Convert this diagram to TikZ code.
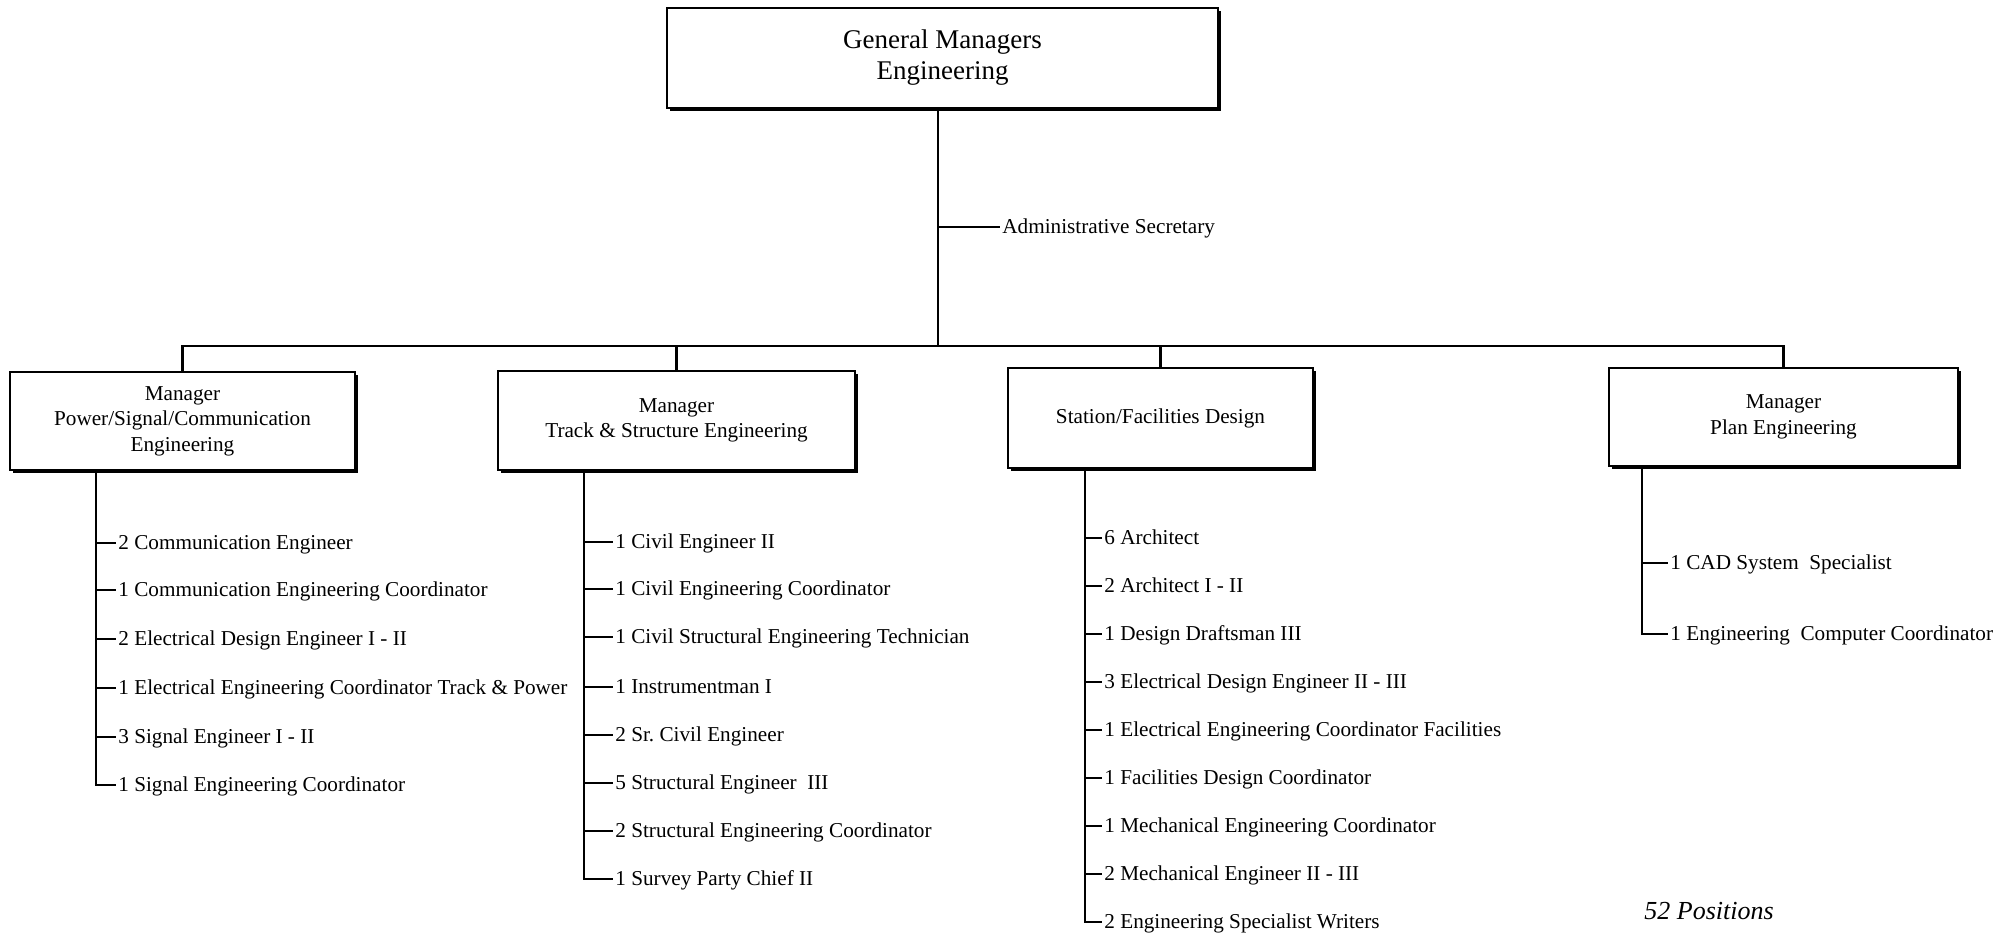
\documentclass[tikz,border=0pt]{standalone}
\usepackage{fontspec}
\setmainfont{Liberation Serif}
\usetikzlibrary{shadows}

\tikzset{
  unitbox/.style={draw, line width=1.1pt, fill=white, align=center,
    font=\fontsize{10.6}{12.75}\selectfont,
    drop shadow={shadow xshift=1.3pt, shadow yshift=-1.3pt, opacity=1, fill=black}},
  topbox/.style={unitbox, font=\fontsize{13.5}{15.5}\selectfont},
  post/.style={anchor=west, inner xsep=1pt, inner ysep=0pt, text height=8pt,
    text depth=1.5pt, font=\fontsize{10.6}{12.75}\selectfont},
  link/.style={line width=1.2pt}
}

\begin{document}
\begin{tikzpicture}[x=0.5pt, y=-0.5pt]
\useasboundingbox (0,0) rectangle (2007,935);

% boxes
\node[topbox, minimum width=275.5pt, minimum height=50pt] (gm) at (942.5,58) {General Managers\\Engineering};
\node[unitbox, minimum width=172.5pt, minimum height=49pt] (psc) at (182.5,421) {Manager\\Power/Signal/Communication\\Engineering};
\node[unitbox, minimum width=178.5pt, minimum height=49.5pt] (track) at (676.5,420.5) {Manager\\Track \& Structure Engineering};
\node[unitbox, minimum width=152.5pt, minimum height=50pt] (station) at (1160.5,418) {Station/Facilities Design};
\node[unitbox, minimum width=174.5pt, minimum height=49pt] (plan) at (1783.5,417) {Manager\\Plan Engineering};

% main line and bus
\coordinate (bus) at (938,346);
\draw[link] (bus |- gm.south) -- (bus);
\draw[link] (psc.north) |- (bus) -| (plan.north);
\draw[link] (track.north) -- (track.north |- bus);
\draw[link] (station.north) -- (station.north |- bus);

\node[post] (admin) at (1000,227) {Administrative Secretary};
\draw[link] (bus |- admin.west) -- (admin.west);

% power/signal/communication
\coordinate (pspine) at (96,0);
\node[post] (p1) at (116,543) {2 Communication Engineer};
\node[post] (p2) at (116,590) {1 Communication Engineering Coordinator};
\node[post] (p3) at (116,639) {2 Electrical Design Engineer I - II};
\node[post] (p4) at (116,688) {1 Electrical Engineering Coordinator Track \& Power};
\node[post] (p5) at (116,737) {3 Signal Engineer I - II};
\node[post] (p6) at (116,785) {1 Signal Engineering Coordinator};
\draw[link] (pspine |- psc.south) |- (p6.west);
\draw[link] (pspine |- p1.west) -- (p1.west) (pspine |- p2.west) -- (p2.west)
  (pspine |- p3.west) -- (p3.west) (pspine |- p4.west) -- (p4.west)
  (pspine |- p5.west) -- (p5.west);

% track & structure
\coordinate (tspine) at (584,0);
\node[post] (t1) at (613,542) {1 Civil Engineer II};
\node[post] (t2) at (613,589) {1 Civil Engineering Coordinator};
\node[post] (t3) at (613,637) {1 Civil Structural Engineering Technician};
\node[post] (t4) at (613,687) {1 Instrumentman I};
\node[post] (t5) at (613,735) {2 Sr.\ Civil Engineer};
\node[post] (t6) at (613,783) {5 Structural Engineer\ \ III};
\node[post] (t7) at (613,831) {2 Structural Engineering Coordinator};
\node[post] (t8) at (613,879) {1 Survey Party Chief II};
\draw[link] (tspine |- track.south) |- (t8.west);
\draw[link] (tspine |- t1.west) -- (t1.west) (tspine |- t2.west) -- (t2.west)
  (tspine |- t3.west) -- (t3.west) (tspine |- t4.west) -- (t4.west)
  (tspine |- t5.west) -- (t5.west) (tspine |- t6.west) -- (t6.west)
  (tspine |- t7.west) -- (t7.west);

% station/facilities
\coordinate (sspine) at (1085,0);
\node[post] (s1) at (1102,538) {6 Architect};
\node[post] (s2) at (1102,586) {2 Architect I - II};
\node[post] (s3) at (1102,634) {1 Design Draftsman III};
\node[post] (s4) at (1102,682) {3 Electrical Design Engineer II - III};
\node[post] (s5) at (1102,730) {1 Electrical Engineering Coordinator Facilities};
\node[post] (s6) at (1102,778) {1 Facilities Design Coordinator};
\node[post] (s7) at (1102,826) {1 Mechanical Engineering Coordinator};
\node[post] (s8) at (1102,874) {2 Mechanical Engineer II - III};
\node[post] (s9) at (1102,922) {2 Engineering Specialist Writers};
\draw[link] (sspine |- station.south) |- (s9.west);
\draw[link] (sspine |- s1.west) -- (s1.west) (sspine |- s2.west) -- (s2.west)
  (sspine |- s3.west) -- (s3.west) (sspine |- s4.west) -- (s4.west)
  (sspine |- s5.west) -- (s5.west) (sspine |- s6.west) -- (s6.west)
  (sspine |- s7.west) -- (s7.west) (sspine |- s8.west) -- (s8.west);

% plan
\coordinate (lspine) at (1642,0);
\node[post] (l1) at (1668,563) {1 CAD System\ \ Specialist};
\node[post] (l2) at (1668,634) {1 Engineering\ \ Computer Coordinator};
\draw[link] (lspine |- plan.south) |- (l2.west);
\draw[link] (lspine |- l1.west) -- (l1.west);

\node[anchor=west, inner sep=0pt, font=\fontsize{13}{15}\selectfont\itshape] (total) at (1644,911) {52 Positions};

\end{tikzpicture}
\end{document}
